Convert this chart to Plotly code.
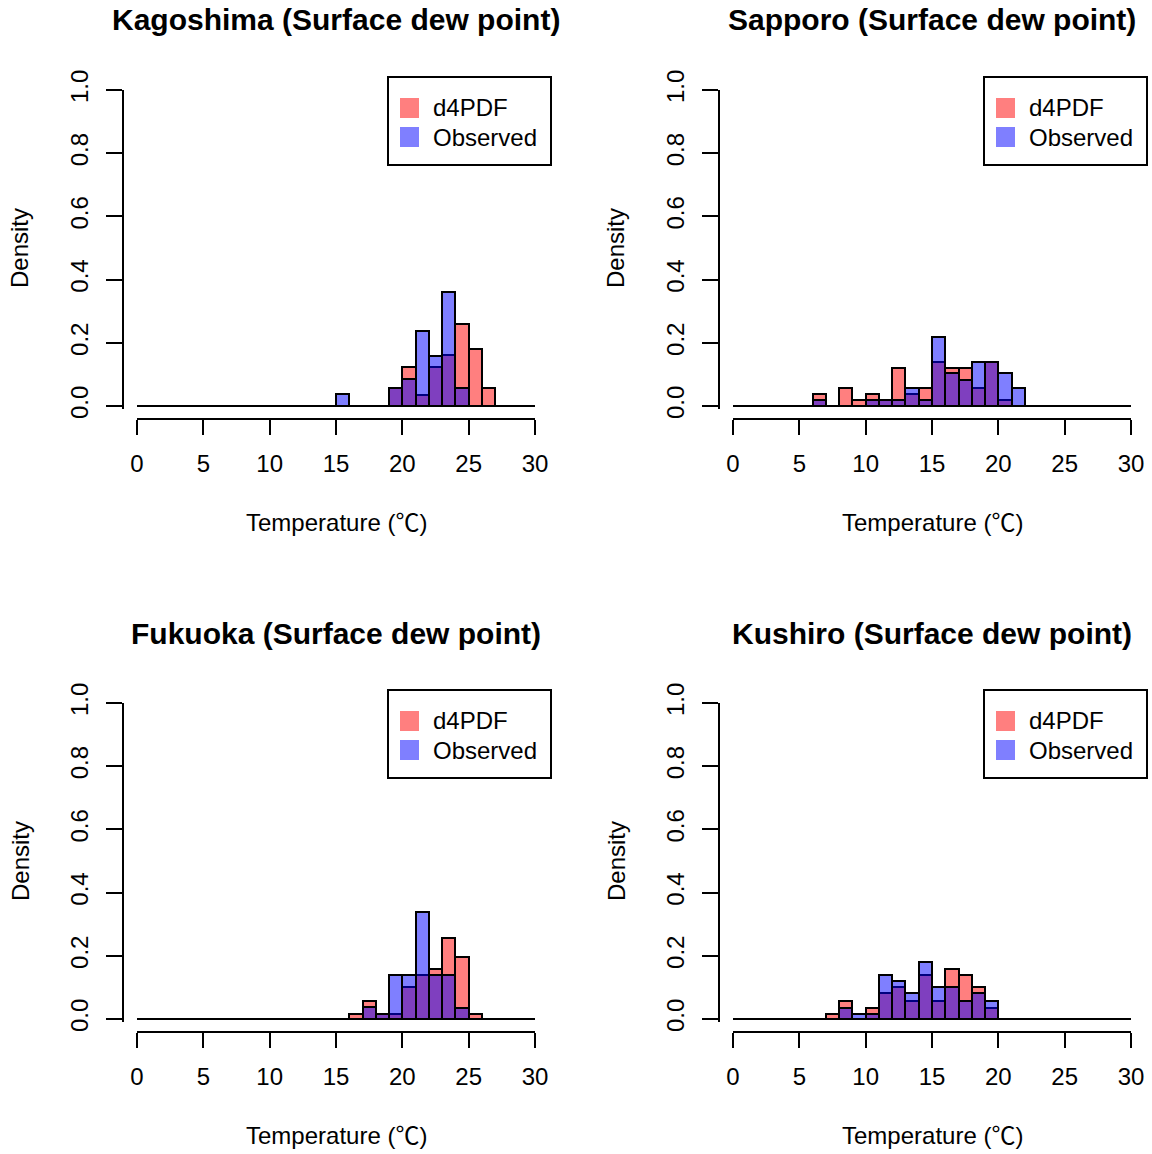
import plotly.graph_objects as go

# Histogram breaks: 1 degC bins from 0 to 30 degC
BREAKS = list(range(0, 31))

STATIONS = ["Kagoshima", "Sapporo", "Fukuoka", "Kushiro"]

# Density per 1 degC bin; bins listed by their left edge
kagoshima_bins = [15, 16, 17, 18, 19, 20, 21, 22, 23, 24, 25, 26]
kagoshima_d4pdf = [0, 0, 0, 0, 0.058, 0.122, 0.035, 0.122, 0.160, 0.258, 0.180, 0.058]
kagoshima_obs = [0.038, 0, 0, 0, 0.058, 0.085, 0.238, 0.158, 0.362, 0.058, 0, 0]

sapporo_bins = [6, 7, 8, 9, 10, 11, 12, 13, 14, 15, 16, 17, 18, 19, 20, 21]
sapporo_d4pdf = [0.038, 0, 0.057, 0.019, 0.038, 0.019, 0.121, 0.038, 0.057, 0.140,
                 0.121, 0.121, 0.056, 0.140, 0.019, 0]
sapporo_obs = [0.019, 0, 0, 0, 0.019, 0.019, 0.019, 0.057, 0.019, 0.219,
               0.103, 0.082, 0.140, 0.140, 0.103, 0.056]

fukuoka_bins = [16, 17, 18, 19, 20, 21, 22, 23, 24, 25]
fukuoka_d4pdf = [0.016, 0.057, 0.016, 0.016, 0.102, 0.140, 0.157, 0.255, 0.197, 0.016]
fukuoka_obs = [0, 0.037, 0.016, 0.140, 0.140, 0.340, 0.140, 0.140, 0.036, 0]

kushiro_bins = [7, 8, 9, 10, 11, 12, 13, 14, 15, 16, 17, 18, 19]
kushiro_d4pdf = [0.017, 0.056, 0, 0.035, 0.082, 0.101, 0.056, 0.140, 0.056, 0.159,
                 0.140, 0.101, 0.035]
kushiro_obs = [0, 0.035, 0.017, 0.017, 0.140, 0.119, 0.082, 0.179, 0.101, 0.101,
               0.056, 0.082, 0.056]

SERIES = [
    (kagoshima_bins, kagoshima_d4pdf, kagoshima_obs),
    (sapporo_bins, sapporo_d4pdf, sapporo_obs),
    (fukuoka_bins, fukuoka_d4pdf, fukuoka_obs),
    (kushiro_bins, kushiro_d4pdf, kushiro_obs),
]

X_TICKS = [0, 5, 10, 15, 20, 25, 30]
Y_TICKS = [0.0, 0.2, 0.4, 0.6, 0.8, 1.0]
LEGEND_LABELS = ["d4PDF", "Observed"]

RED = "rgba(255,0,0,0.5)"
BLUE = "rgba(0,0,255,0.5)"

W, H = 1152, 1154
FONT = "Liberation Sans, Arial, DejaVu Sans, sans-serif"
CJK = "Noto Sans CJK JP"


def px(x):
    return x / W


def py(y):
    return 1 - y / H


# Panel geometry in pixels for the top-left panel; others are offset
X0, X30 = 137, 535          # x = 0 and x = 30
Y0, Y1 = 406, 90            # y = 0 and y = 1
Y_LO = -0.01                # small pad so the baseline is not clipped
Y_BOTTOM = Y0 + (Y0 - Y1) * (-Y_LO)
XAXIS_Y = 419
YAXIS_X = 122.5
OFFSETS = [(0, 0), (596, 0), (0, 613), (596, 613)]

fig = go.Figure()
layout = dict(
    width=W, height=H, autosize=False,
    margin=dict(l=0, r=0, t=0, b=0, pad=0, autoexpand=False),
    paper_bgcolor="white", plot_bgcolor="white",
    showlegend=False, barmode="overlay", bargap=0,
    font=dict(family=FONT, size=24, color="black"),
)
shapes, annotations = [], []

for i, (name, (bins, d4, obs)) in enumerate(zip(STATIONS, SERIES)):
    dx, dy = OFFSETS[i]
    k = "" if i == 0 else str(i + 1)
    xa, ya = "x" + k, "y" + k
    centers = [b + 0.5 for b in bins]

    # zero line across all histogram breaks
    fig.add_trace(go.Scatter(
        x=[BREAKS[0], BREAKS[-1]], y=[0, 0], mode="lines",
        line=dict(color="black", width=2), xaxis=xa, yaxis=ya, hoverinfo="skip"))
    fig.add_trace(go.Bar(
        x=centers, y=d4, width=1, name=LEGEND_LABELS[0],
        marker=dict(color=RED, line=dict(color="black", width=2)),
        xaxis=xa, yaxis=ya))
    fig.add_trace(go.Bar(
        x=centers, y=obs, width=1, name=LEGEND_LABELS[1],
        marker=dict(color=BLUE, line=dict(color="black", width=2)),
        xaxis=xa, yaxis=ya))

    layout["xaxis" + k] = dict(
        domain=[px(X0 + dx), px(X30 + dx)], range=[0, 30],
        anchor="free", position=py(XAXIS_Y + dy), automargin=False,
        showgrid=False, zeroline=False, showline=True, linecolor="black", linewidth=2,
        ticks="outside", ticklen=15, tickwidth=2, tickcolor="black",
        tickvals=X_TICKS, ticktext=[str(v) for v in X_TICKS],
        tickfont=dict(size=24, family=FONT, color="black"),
        ticklabelstandoff=8,
    )
    layout["yaxis" + k] = dict(
        domain=[py(Y_BOTTOM + dy), py(Y1 + dy)], range=[Y_LO, 1.0],
        anchor="free", position=px(YAXIS_X + dx), automargin=False,
        showgrid=False, zeroline=False, showline=True, linecolor="black", linewidth=2,
        ticks="outside", ticklen=16, tickwidth=2, tickcolor="black",
        tickvals=Y_TICKS, ticktext=["%.1f" % v for v in Y_TICKS],
        tickangle=-90, tickfont=dict(size=24, family=FONT, color="black"),
        ticklabelstandoff=8,
    )

    # panel title and axis titles
    cx = (X0 + X30) / 2 + dx
    annotations.append(dict(
        text="<b>%s (Surface dew point)</b>" % name, x=px(cx), y=py(20 + dy),
        xref="paper", yref="paper", showarrow=False, xanchor="center", yanchor="middle",
        font=dict(size=30, family=FONT, color="black")))
    annotations.append(dict(
        text="Temperature (<span style=\"font-family:%s\">\u2103</span>)" % CJK,
        x=px(cx), y=py(520 + dy),
        xref="paper", yref="paper", showarrow=False, xanchor="center", yanchor="middle",
        font=dict(size=24, family=FONT, color="black")))
    annotations.append(dict(
        text="Density", x=px(20 + dx), y=py((Y0 + Y1) / 2 + dy),
        xref="paper", yref="paper", showarrow=False, textangle=-90,
        xanchor="center", yanchor="middle",
        font=dict(size=24, family=FONT, color="black")))

    # legend box
    shapes.append(dict(
        type="rect", xref="paper", yref="paper",
        x0=px(388 + dx), x1=px(551 + dx), y0=py(77 + dy), y1=py(165 + dy),
        line=dict(color="black", width=2), fillcolor="white", layer="above"))
    for j, (label, col) in enumerate(zip(LEGEND_LABELS, [RED, BLUE])):
        yc = 108 + 29 * j + dy
        shapes.append(dict(
            type="rect", xref="paper", yref="paper",
            x0=px(400 + dx), x1=px(419 + dx), y0=py(yc - 10), y1=py(yc + 10),
            line=dict(width=0), fillcolor=col, layer="above"))
        annotations.append(dict(
            text=label, x=px(431 + dx), y=py(yc),
            xref="paper", yref="paper", showarrow=False, xanchor="left", yanchor="middle",
            font=dict(size=24, family=FONT, color="black")))

layout["shapes"] = shapes
layout["annotations"] = annotations
fig.update_layout(**layout)
fig.write_html("out.html", config={"responsive": False})
